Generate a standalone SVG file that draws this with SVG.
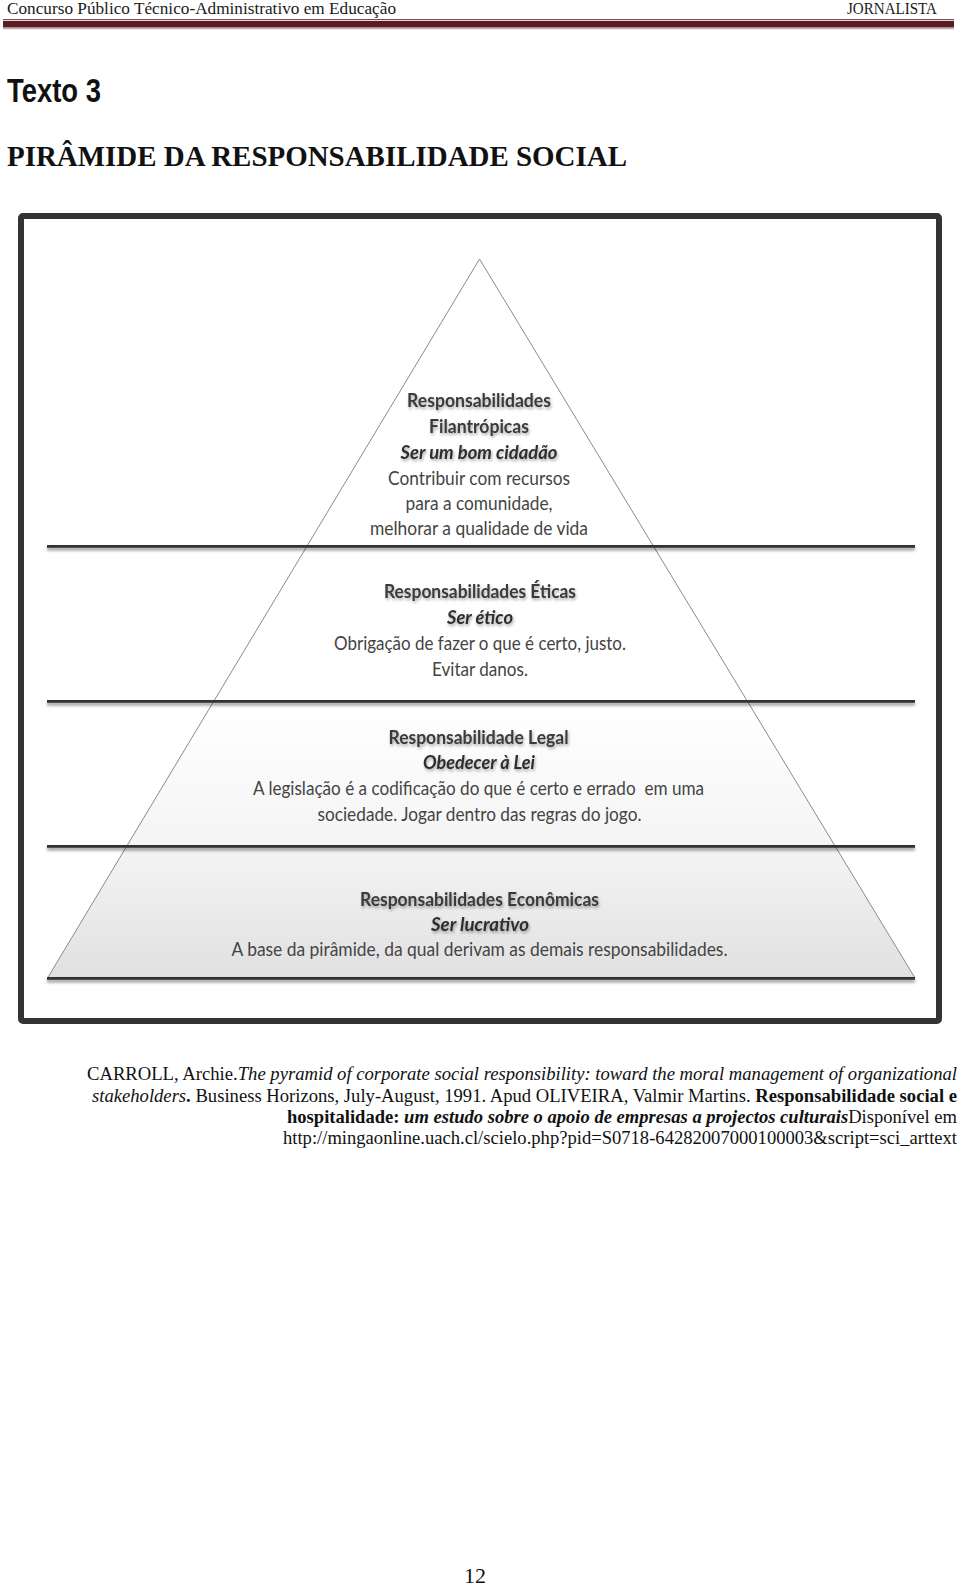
<svg xmlns="http://www.w3.org/2000/svg" width="960" height="1586" viewBox="0 0 960 1586">
<style>
.hdr{font-family:"Liberation Serif",serif;font-size:17px;fill:#1a1a1a}
.cal{font-family:Lato,"Noto Sans",sans-serif;font-size:19px;text-anchor:middle;white-space:pre}
.hb{font-weight:bold;fill:#3a3a3a}
.it{font-weight:bold;font-style:italic;fill:#2e2e2e}
.bd{fill:#444}
.cit{font-family:"Liberation Serif",serif;font-size:18px;fill:#111}
.hline{fill:#333333}
</style>
<defs>
<linearGradient id="pg" gradientUnits="userSpaceOnUse" x1="0" y1="259" x2="0" y2="980">
<stop offset="0" stop-color="#ffffff"/>
<stop offset="0.62" stop-color="#ffffff"/>
<stop offset="0.82" stop-color="#f4f4f4"/>
<stop offset="1" stop-color="#e0e0e0"/>
</linearGradient>
<filter id="ts" filterUnits="userSpaceOnUse" x="0" y="0" width="960" height="1586">
<feDropShadow dx="1" dy="2" stdDeviation="1.6" flood-color="#000" flood-opacity="0.35"/>
</filter>
<filter id="ls" filterUnits="userSpaceOnUse" x="0" y="0" width="960" height="1586">
<feDropShadow dx="0" dy="2.5" stdDeviation="1.5" flood-color="#000" flood-opacity="0.45"/>
</filter>
</defs>
<rect width="960" height="1586" fill="#ffffff"/>

<g id="header">
<text class="hdr" x="7" y="14" textLength="389" lengthAdjust="spacingAndGlyphs">Concurso Público Técnico-Administrativo em Educação</text>
<text class="hdr" x="847" y="14" textLength="90" lengthAdjust="spacingAndGlyphs">JORNALISTA</text>
<rect x="3" y="19" width="951" height="1.2" fill="#7a4a4a"/>
<rect x="3" y="21" width="951" height="6.5" fill="#5a1c22"/>
<rect x="3" y="28.2" width="951" height="1" fill="#b89a9a"/>
</g>

<g id="titles">
<text x="7" y="102" font-family="'Liberation Sans',Arial,sans-serif" font-weight="bold" font-size="33" fill="#111" textLength="94" lengthAdjust="spacingAndGlyphs">Texto 3</text>
<text x="7" y="166" font-family="'Liberation Serif',serif" font-weight="bold" font-size="30" fill="#111" textLength="620" lengthAdjust="spacingAndGlyphs">PIRÂMIDE DA RESPONSABILIDADE SOCIAL</text>
</g>

<g id="frame">
<rect x="21" y="216" width="918" height="805" rx="2" fill="#ffffff" stroke="#333333" stroke-width="6"/>
</g>

<g id="pyramid">
<polygon points="479.5,259 47.5,978 915,978" fill="url(#pg)" stroke="#8a8a8a" stroke-width="1"/>
</g>

<g id="connectors" filter="url(#ls)">
<rect class="hline" x="47" y="545" width="868" height="2.8"/>
<rect class="hline" x="47" y="700" width="868" height="2.8"/>
<rect class="hline" x="47" y="845" width="868" height="2.8"/>
<rect class="hline" x="47" y="977" width="868" height="2.8"/>
</g>

<g id="tier-filantropicas">
<text class="cal hb" filter="url(#ts)" x="479" y="407" textLength="144" lengthAdjust="spacingAndGlyphs">Responsabilidades</text>
<text class="cal hb" filter="url(#ts)" x="479" y="433" textLength="100" lengthAdjust="spacingAndGlyphs">Filantrópicas</text>
<text class="cal it" filter="url(#ts)" x="479" y="458.5" textLength="157" lengthAdjust="spacingAndGlyphs">Ser um bom cidadão</text>
<text class="cal bd" x="479" y="484.5" textLength="182" lengthAdjust="spacingAndGlyphs">Contribuir com recursos</text>
<text class="cal bd" x="479" y="510" textLength="147" lengthAdjust="spacingAndGlyphs">para a comunidade,</text>
<text class="cal bd" x="479" y="535" textLength="218" lengthAdjust="spacingAndGlyphs">melhorar a qualidade de vida</text>
</g>

<g id="tier-eticas">
<text class="cal hb" filter="url(#ts)" x="480" y="597.5" textLength="192" lengthAdjust="spacingAndGlyphs">Responsabilidades Éticas</text>
<text class="cal it" filter="url(#ts)" x="480" y="624" textLength="66" lengthAdjust="spacingAndGlyphs">Ser ético</text>
<text class="cal bd" x="480" y="650" textLength="292" lengthAdjust="spacingAndGlyphs">Obrigação de fazer o que é certo, justo.</text>
<text class="cal bd" x="480" y="676" textLength="96" lengthAdjust="spacingAndGlyphs">Evitar danos.</text>
</g>

<g id="tier-legal">
<text class="cal hb" filter="url(#ts)" x="478.5" y="743.5" textLength="180" lengthAdjust="spacingAndGlyphs">Responsabilidade Legal</text>
<text class="cal it" filter="url(#ts)" x="479" y="769" textLength="112" lengthAdjust="spacingAndGlyphs">Obedecer à Lei</text>
<text class="cal bd" x="478.5" y="795" textLength="451" lengthAdjust="spacingAndGlyphs">A legislação é a codificação do que é certo e errado  em uma</text>
<text class="cal bd" x="479.5" y="821" textLength="324" lengthAdjust="spacingAndGlyphs">sociedade. Jogar dentro das regras do jogo.</text>
</g>

<g id="tier-economicas">
<text class="cal hb" filter="url(#ts)" x="479.5" y="906" textLength="239" lengthAdjust="spacingAndGlyphs">Responsabilidades Econômicas</text>
<text class="cal it" filter="url(#ts)" x="480" y="931" textLength="98" lengthAdjust="spacingAndGlyphs">Ser lucrativo</text>
<text class="cal bd" x="479.5" y="956" textLength="496" lengthAdjust="spacingAndGlyphs">A base da pirâmide, da qual derivam as demais responsabilidades.</text>
</g>

<g id="citation">
<text class="cit" x="87" y="1080" textLength="870" lengthAdjust="spacingAndGlyphs">CARROLL, Archie.<tspan font-style="italic">The pyramid of corporate social responsibility: toward the moral management of organizational</tspan></text>
<text class="cit" x="92" y="1101.5" textLength="865" lengthAdjust="spacingAndGlyphs"><tspan font-style="italic">stakeholders</tspan><tspan font-weight="bold">.</tspan> Business Horizons, July-August, 1991. Apud OLIVEIRA, Valmir Martins. <tspan font-weight="bold">Responsabilidade social e</tspan></text>
<text class="cit" x="287" y="1123" textLength="670" lengthAdjust="spacingAndGlyphs"><tspan font-weight="bold">hospitalidade: </tspan><tspan font-weight="bold" font-style="italic">um estudo sobre o apoio de empresas a projectos culturais</tspan>Disponível em</text>
<text class="cit" x="283" y="1144" textLength="674" lengthAdjust="spacingAndGlyphs">http://mingaonline.uach.cl/scielo.php?pid=S0718-64282007000100003&amp;script=sci_arttext</text>
</g>

<g id="page-number">
<text x="475" y="1583" font-family="'Liberation Serif',serif" font-size="22" fill="#111" text-anchor="middle">12</text>
</g>
</svg>
